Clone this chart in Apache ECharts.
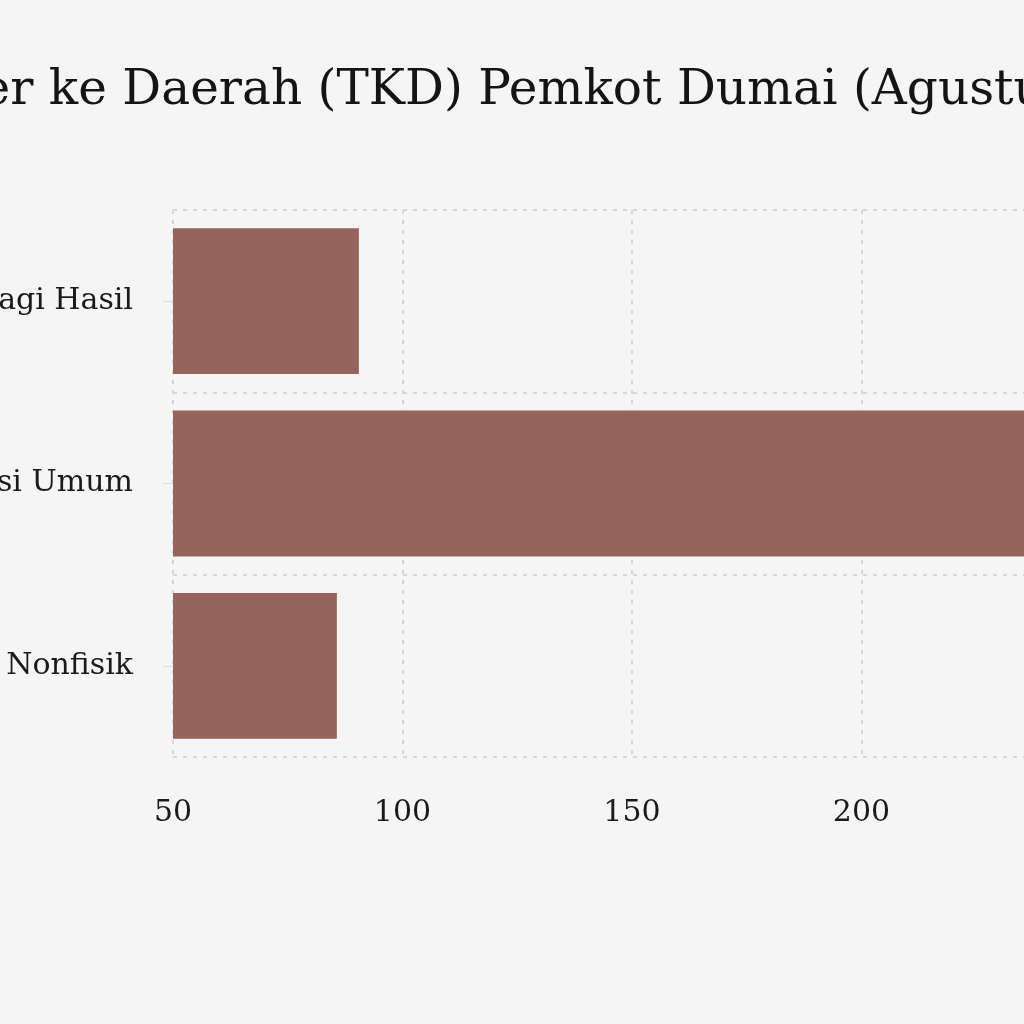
<!DOCTYPE html>
<html>
<head>
<meta charset="utf-8">
<script src="https://cdn.jsdelivr.net/npm/echarts@6/dist/echarts.min.js"></script>
<style>
  html, body { margin: 0; padding: 0; background: #f5f5f5; overflow: hidden; width: 1024px; height: 1024px; }
  #chart { position: absolute; left: -400px; top: 0; width: 1800px; height: 1024px; }
</style>
</head>
<body>
<div id="chart"></div>
<script>
// data
var titleText = 'Transfer ke Daerah (TKD) Pemkot Dumai (Agustus 2024)'
var categories = ['Dana Bagi Hasil', 'Dana Alokasi Umum', 'DAK Nonfisik']
var values = [90.5, 262, 85.7]
var xTicks = { min: 50, max: 300, step: 50 }

var serif = 'DejaVu Serif'
var chart = echarts.init(document.getElementById('chart'))
chart.setOption({
  backgroundColor: '#f5f5f5',
  animation: false,
  title: {
    text: titleText,
    left: 218,
    top: 62,
    textStyle: { fontFamily: serif, fontSize: 48.5, fontWeight: 'normal', color: '#141414' }
  },
  grid: { left: 573, top: 210, width: 1147.5, height: 547 },
  xAxis: {
    type: 'value',
    min: xTicks.min,
    max: xTicks.max,
    interval: xTicks.step,
    axisLine: { show: false },
    axisTick: { show: false },
    axisLabel: { fontFamily: serif, fontSize: 30, color: '#1a1a1a', margin: 41 },
    splitLine: { lineStyle: { color: '#d6d6d6', type: [4, 6], width: 2 } }
  },
  yAxis: {
    type: 'category',
    data: categories,
    inverse: true,
    axisLine: { show: false },
    axisTick: { show: true, alignWithLabel: true, length: 10, lineStyle: { color: '#dcdcdc' } },
    axisLabel: { fontFamily: serif, fontSize: 30, color: '#1a1a1a', margin: 40 },
    splitLine: { show: true, lineStyle: { color: '#d6d6d6', type: [4, 6], width: 2 } }
  },
  series: [{
    type: 'bar',
    data: values,
    barCategoryGap: '20%',
    itemStyle: { color: '#95655d' }
  }]
})
</script>
</body>
</html>
